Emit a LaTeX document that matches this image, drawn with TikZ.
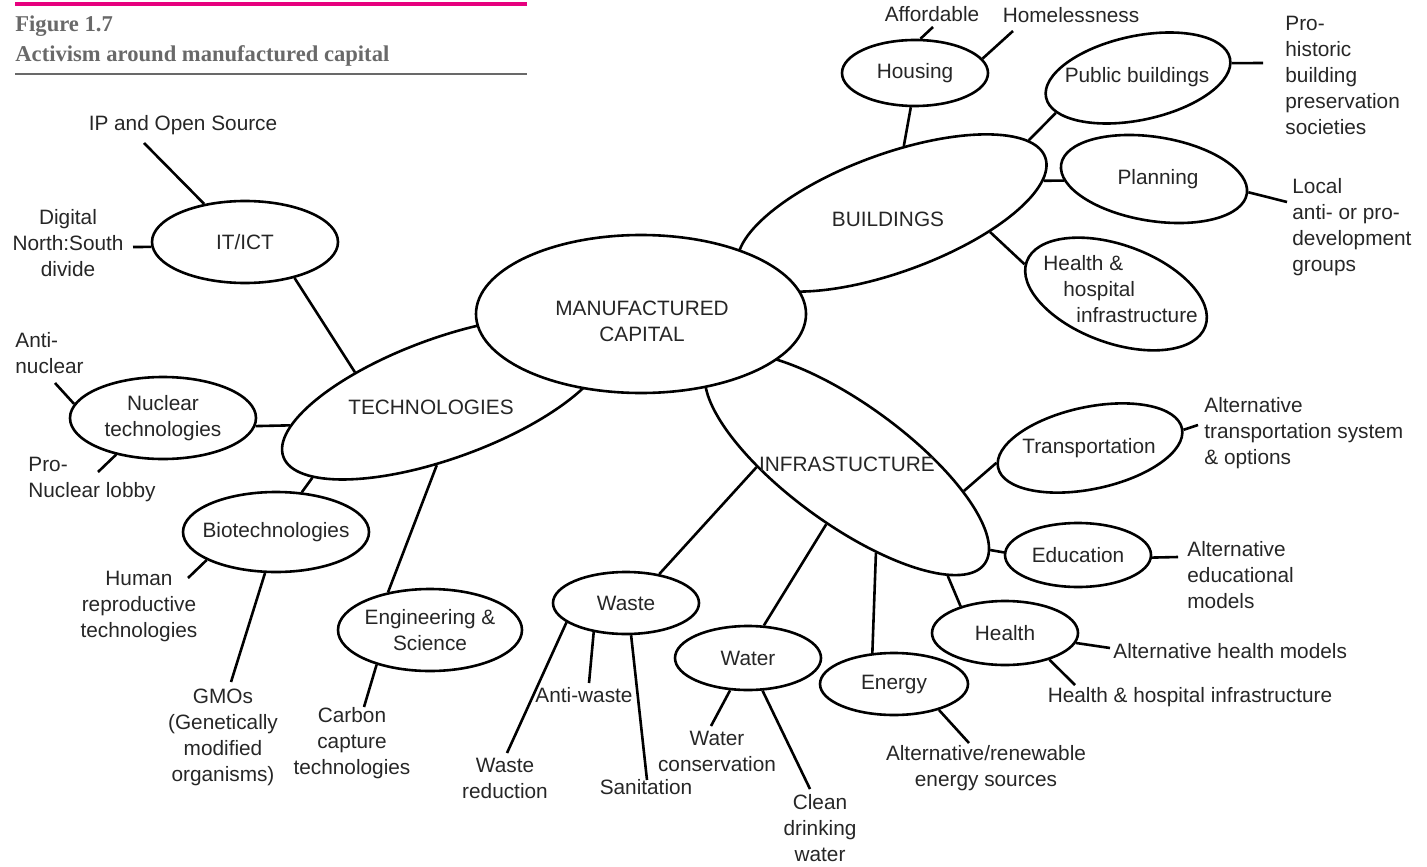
\documentclass[tikz,border=0pt]{standalone}
\usepackage{fontspec}
\setmainfont{Liberation Sans}
\newfontfamily\ttlfont{Liberation Serif}
\usetikzlibrary{shapes.geometric}
\definecolor{figmagenta}{HTML}{E6007E}
\definecolor{figgray}{HTML}{696969}
\newcommand\lblfont{\fontsize{10.4}{13}\selectfont}

\begin{document}
\begin{tikzpicture}[x=0.5pt, y=-0.5pt,
    ell/.style 2 args={draw, ellipse, line width=1.3pt, fill=white, inner sep=-8pt,
      minimum width=#1pt, minimum height=#2pt, align=center, font=\lblfont, text=black!85},
    lbl/.style={inner sep=0pt, align=center, font=\lblfont, text=black!85},
    lnk/.style={line width=1.3pt}]
        \useasboundingbox (0,0) rectangle (1427,866);
        \draw[figmagenta, line width=2pt] (15,4.5) -- (527,4.5);
        \draw[figgray, line width=1.4pt] (15,74) -- (527,74);
        \node[anchor=base west, inner sep=0pt, text=figgray, font=\ttlfont\bfseries\fontsize{11.3}{13}\selectfont] (fig-no) at (15,32) {Figure 1.7};
        \node[anchor=base west, inner sep=0pt, text=figgray, font=\ttlfont\bfseries\fontsize{11.3}{13}\selectfont] (fig-title) at (15,62) {Activism around manufactured capital};

        \node[ell={172}{60}, rotate=20] (tech) at (445,398) {};
        \node[ell={163}{59}, rotate=20] (bld) at (892,213) {};
        \node[ell={170}{60}, rotate=-36] (inf) at (847,464) {};
        \node[ell={165}{79}] (mc) at (641,314) {};
        \node[ell={93}{41}] (itict) at (245,242) {IT/ICT};
        \node[ell={93}{41}] (nuc) at (163,418) {Nuclear\\technologies};
        \node[ell={93}{40}] (bio) at (276,532) {Biotechnologies};
        \node[ell={92}{41}] (eng) at (430,630) {Engineering \&\\Science};
        \node[ell={73}{33}] (hous) at (915,73) {Housing};
        \node[ell={94}{42}, rotate=12] (pub) at (1138,78) {};
        \node[ell={94}{42}, rotate=-9] (plan) at (1154,179) {};
        \node[ell={95}{49}, rotate=-20] (hhi) at (1116,294) {};
        \node[ell={94}{41}, rotate=12] (trans) at (1090,448) {};
        \node[ell={73}{32}] (edu) at (1078,555) {Education};
        \node[ell={73}{32}] (hlth) at (1005,633) {Health};
        \node[ell={74}{31}] (engy) at (894,684) {Energy};
        \node[ell={73}{32}] (wat) at (748,658) {Water};
        \node[ell={73}{31}] (wst) at (626,603) {Waste};

        \node[lbl] (mc-l) at (642,321) {MANUFACTURED\\CAPITAL};
        \node[lbl] (tech-l) at (431,407) {TECHNOLOGIES};
        \node[lbl] (bld-l) at (888,219) {BUILDINGS};
        \node[lbl] (inf-l) at (847,464) {INFRASTUCTURE};
        \node[lbl] (pub-l) at (1137,77) {Public buildings};
        \node[lbl] (plan-l) at (1158,179) {Planning};
        \node[lbl] (trans-l) at (1089,448) {Transportation};
        \node[lbl, align=left, anchor=west] (hhi-l) at (1043,289) {Health \&\\\hspace*{10pt}hospital\\\hspace*{16.5pt}infrastructure};

        \node[lbl] (ip) at (183,125) {IP and Open Source};
        \node[lbl] (dig) at (68,243) {Digital\\North:South\\divide};
        \node[lbl, align=left, anchor=west] (anti) at (15,353) {Anti-\\nuclear};
        \node[lbl, align=left, anchor=west] (pron) at (28,479) {Pro-\\Nuclear lobby};
        \node[lbl] (hum) at (139,606) {Human\\reproductive\\technologies};
        \node[lbl] (gmo) at (223,737) {GMOs\\(Genetically\\modified\\organisms)};
        \node[lbl] (carb) at (352,743) {Carbon\\capture\\technologies};
        \node[lbl] (wred) at (505,778) {Waste\\reduction};
        \node[lbl] (antw) at (584,695) {Anti-waste};
        \node[lbl] (sani) at (646,787) {Sanitation};
        \node[lbl] (wcon) at (717,751) {Water\\conservation};
        \node[lbl] (clean) at (820,828) {Clean\\drinking\\water};
        \node[lbl] (renew) at (986,768) {Alternative/renewable\\energy sources};
        \node[lbl] (hhit) at (1190,697) {Health \& hospital infrastructure};
        \node[lbl, anchor=west] (ahm) at (1113,651) {Alternative health models};
        \node[lbl, align=left, anchor=west] (aedu) at (1187,575) {Alternative\\educational\\models};
        \node[lbl, align=left, anchor=west] (atra) at (1204,433) {Alternative\\transportation system\\\& options};
        \node[lbl, align=left, anchor=west] (local) at (1292,227) {Local\\anti- or pro-\\development\\groups};
        \node[lbl, align=left, anchor=west] (prohist) at (1285,75) {Pro-\\historic\\building\\preservation\\societies};
        \node[lbl] (aff) at (932,14) {Affordable};
        \node[lbl] (home) at (1071,15) {Homelessness};

        \coordinate (ip-e) at (144,143);
        \coordinate (dig-e) at (133,247);
        \coordinate (anti-e) at (55,383);
        \coordinate (pron-e) at (98,472);
        \coordinate (hum-e) at (188,578);
        \coordinate (gmo-e) at (231,682);
        \coordinate (carb-e) at (364,707);
        \coordinate (aff-e) at (933,27);
        \coordinate (home-e) at (1013,31);
        \coordinate (prohist-e) at (1263,63);
        \coordinate (local-e) at (1287,202);
        \coordinate (atra-e) at (1198,425);
        \coordinate (aedu-e) at (1178,557);
        \coordinate (ahm-e) at (1110,648);
        \coordinate (hhit-e) at (1075,685);
        \coordinate (renew-e) at (969,743);
        \coordinate (wred-e) at (507,753);
        \coordinate (antw-e) at (589,683);
        \coordinate (sani-e) at (647,780);
        \coordinate (wcon-e) at (711,726);
        \coordinate (clean-e) at (810,789);

        \draw[lnk] (itict.137) -- (ip-e);
        \draw[lnk] (itict.183) -- (dig-e);
        \draw[lnk] (itict.-36) -- (tech.144);
        \draw[lnk] (nuc.171) -- (anti-e);
        \draw[lnk] (nuc.218) -- (pron-e);
        \draw[lnk] (nuc.-5) -- (tech.170);
        \draw[lnk] (tech.191) -- (bio.57);
        \draw[lnk] (bio.202) -- (hum-e);
        \draw[lnk] (bio.255) -- (gmo-e);
        \draw[lnk] (tech.243) -- (eng.138);
        \draw[lnk] (eng.213) -- (carb-e);
        \draw[lnk] (bld.60) -- (hous.263);
        \draw[lnk] (hous.81) -- (aff-e);
        \draw[lnk] (hous.12) -- (home-e);
        \draw[lnk] (bld.8) -- (pub.191);
        \draw[lnk] (pub.-3) -- (prohist-e);
        \draw[lnk] (bld.-8) -- (plan.190);
        \draw[lnk] (plan.1) -- (local-e);
        \draw[lnk] (bld.-31) -- (hhi.182);
        \draw[lnk] (inf.23) -- (trans.177);
        \draw[lnk] (trans.-1) -- (atra-e);
        \draw[lnk] (inf.5) -- (edu.178);
        \draw[lnk] (edu.-2) -- (aedu-e);
        \draw[lnk] (inf.-12) -- (hlth.149);
        \draw[lnk] (hlth.-8) -- (ahm-e);
        \draw[lnk] (hlth.-31) -- (hhit-e);
        \draw[lnk] (inf.-36) -- (engy.125);
        \draw[lnk] (inf.-73) -- (wat.64);
        \draw[lnk] (inf.218) -- (wst.41);
        \draw[lnk] (engy.-30) -- (renew-e);
        \draw[lnk] (wst.198) -- (wred-e);
        \draw[lnk] (wst.222) -- (antw-e);
        \draw[lnk] (wst.-81) -- (sani-e);
        \draw[lnk] (wat.241) -- (wcon-e);
        \draw[lnk] (wat.-66) -- (clean-e);
      \end{tikzpicture}
\end{document}
